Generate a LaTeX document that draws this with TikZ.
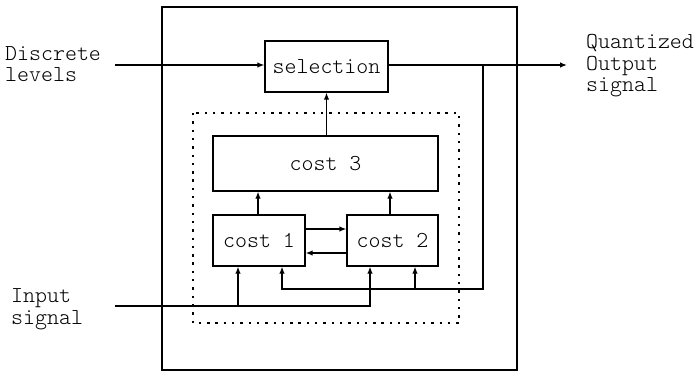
\documentclass[tikz,border=0pt]{standalone}
\usetikzlibrary{arrows.meta}
\begin{document}
\begin{tikzpicture}[x=1pt,y=-1pt,
  every node/.style={font=\ttfamily\fontseries{l}\fontsize{22.8}{21.5}\selectfont},
  blk/.style={draw,line width=1.3pt,inner sep=0pt,anchor=center},
  lbl/.style={align=left,anchor=west,inner sep=0pt},
  wire/.style={line width=1.3pt},
  arr/.style={wire,-{Latex[length=7pt,width=5.5pt]}}]
\useasboundingbox (0,0) rectangle (696,372);
% outer box
\draw[line width=2pt] (162,7) rectangle (517,370);
% dotted box
\draw[line width=2.4pt,dash pattern=on 2.4pt off 5.9pt] (193,113) rectangle (459,323);
% blocks
\node[blk,minimum width=123pt,minimum height=51pt] (sel) at (326.5,66.5) {selection};
\node[blk,minimum width=225pt,minimum height=55pt] (c3) at (325.5,163.5) {cost 3};
\node[blk,minimum width=92pt,minimum height=51pt] (c1) at (259,240.5) {cost 1};
\node[blk,minimum width=91pt,minimum height=51pt] (c2) at (392.5,240.5) {cost 2};
% labels
\node[lbl] (dl) at (5,64) {Discrete\\levels};
\node[lbl] (qo) at (586,66) {Quantized\\Output\\signal};
\node[lbl] (is) at (11,309) {Input\\signal};
\coordinate (din) at (115,65);
\coordinate (qout) at (567,65);
\coordinate (iin) at (115,306);
% connections
\draw[arr] (din) -- (din -| sel.west);
\draw[arr] (sel.east |- qout) -- (qout);
\draw[arr] (c3.north -| sel.south) -- (sel.south);
\draw[arr] (258,0 |- c1.north) -- (258,0 |- c3.south);
\draw[arr] (390,0 |- c2.north) -- (390,0 |- c3.south);
\draw[arr] (c1.east |- 0,229) -- (c2.west |- 0,229);
\draw[arr] (c2.west |- 0,253) -- (c1.east |- 0,253);
% input signal
\draw[arr] (iin) -- (370,306) -- (370,0 |- c2.south);
\draw[arr] (238,306) -- (238,0 |- c1.south);
% feedback
\draw[arr] (483,65) -- (483,289) -- (282,289) -- (282,0 |- c1.south);
\draw[arr] (415,289) -- (415,0 |- c2.south);
\end{tikzpicture}
\end{document}
